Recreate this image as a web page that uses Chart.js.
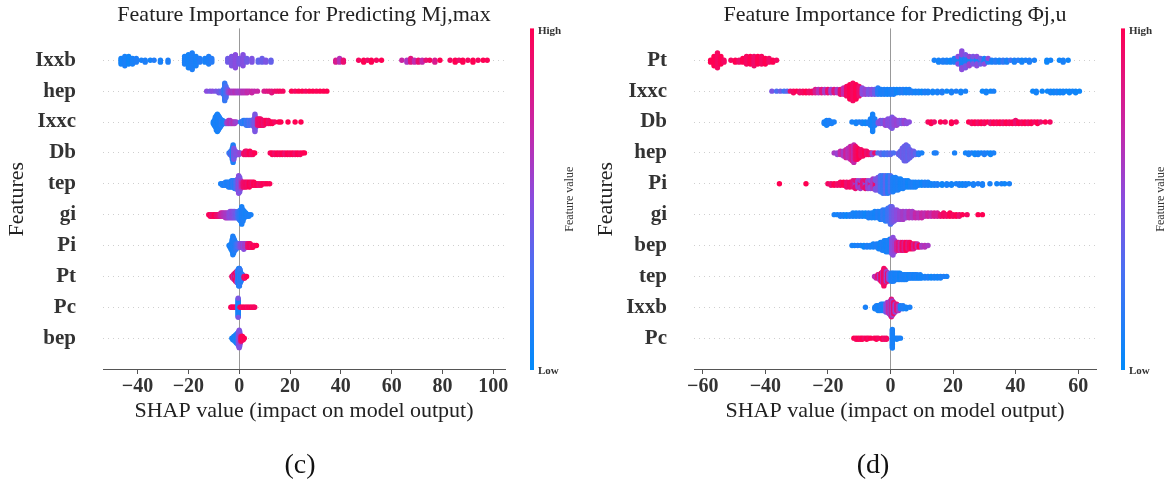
<!DOCTYPE html>
<html>
<head>
<meta charset="utf-8">
<script src="https://cdn.jsdelivr.net/npm/chart.js@4.4.1/dist/chart.umd.min.js"></script>
<style>
  html, body { margin: 0; padding: 0; background: #fff; }
  #wrap { position: relative; width: 1164px; height: 484px; }
  canvas { position: absolute; top: 0; }
  #c1 { left: 0; }
  #c2 { left: 582px; }
</style>
</head>
<body>
<div id="wrap">
  <canvas id="c1" width="582" height="484"></canvas>
  <canvas id="c2" width="582" height="484"></canvas>
</div>
<script>
// ---- data: [shap value, normalised feature value, number of samples] ----
const leftFeatures = ["Ixxb", "hep", "Ixxc", "Db", "tep", "gi", "Pi", "Pt", "Pc", "bep"];
const rightFeatures = ["Pt", "Ixxc", "Db", "hep", "Pi", "gi", "bep", "tep", "Ixxb", "Pc"];
const leftTicks = [-40, -20, 0, 20, 40, 60, 80, 100];
const rightTicks = [-60, -40, -20, 0, 20, 40, 60];
const leftRange = [-53.6, 104.6];
const rightRange = [-62.8, 65.7];

const mIxxb = [[-46.5,.08,4],[-45,.1,6],[-43.5,.06,5],[-42,.1,4],[-40.5,.12,3],[-38.5,.1,1],[-37,.12,2],[-35,.08,1],[-33.5,.14,1],[-31,.1,2],[-28,.12,2],[-21.5,.1,5],[-20,.08,8],[-18.5,.12,10],[-17,.1,6],[-15.5,.14,3],[-13.5,.1,3],[-12,.12,5],[-10.8,.15,3],[-4.5,.42,3],[-3,.46,6],[-1.5,.5,8],[0,.44,4],[1.5,.48,7],[3,.42,3],[5,.46,3],[7.5,.36,2],[9,.4,3],[10.5,.45,2],[12.5,.38,2],[38,.8,2],[39.5,.65,3],[41,.9,2],[47,.95,1],[49,1,2],[50.5,.92,1],[52,1,2],[54,.95,1],[56,1,1],[64,.72,1],[66,.62,2],[67.5,.85,3],[69,.68,2],[70.5,.9,2],[72,.7,2],[73.5,.88,1],[75,.95,1],[77,.8,2],[79,1,1],[83,.95,1],[85,1,2],[86.5,.92,1],[88,1,2],[90,.95,1],[92,1,2],[94,.95,1],[96,1,1],[97.6,.98,1]];
const mHep = [[-12.8,.5,1],[-11.5,.45,1],[-10.5,.5,1],[-9.2,.45,1],[-8,.42,2],[-7,.35,2],[-6.2,.25,4],[-5.7,.2,12],[-5.2,.3,8],[-4.6,.4,3],[-4,.55,2],[-3.2,.62,2],[-2.4,.6,2],[-1.6,.65,2],[-0.8,.6,2],[0,.58,2],[0.8,.62,2],[1.6,.66,2],[2.4,.65,2],[3.2,.7,2],[4,.68,1],[5,.72,2],[6,.7,1],[7.2,.72,1],[9.8,.8,1],[10.8,.82,1],[11.8,.85,1],[12.8,.85,2],[14,.9,1],[15,.92,1],[16,.95,1],[17.2,.95,1],[20.6,1,1],[22,.95,1],[23.4,1,1],[24.8,1,1],[26.2,.95,1],[27.6,1,1],[29,1,1],[30.4,.98,1],[31.8,1,1],[33.2,1,1],[34.5,1,1]];
const mIxxc = [[-10.2,.1,2],[-9.8,.08,4],[-9.4,.1,7],[-9,.12,10],[-8.6,.08,12],[-8.2,.1,10],[-7.8,.12,8],[-7.4,.1,6],[-7,.15,4],[-6.5,.12,3],[-6,.1,2],[-5.4,.15,2],[-4.8,.55,2],[-4.2,.6,3],[-3.6,.65,3],[-3,.58,2],[-2.4,.66,2],[-1.8,.6,2],[-1.2,.55,1],[0.5,.2,1],[1,.15,2],[1.6,.2,3],[2.2,.12,3],[2.8,.25,4],[3.4,.2,4],[4,.3,4],[4.6,.25,3],[5.2,.35,4],[5.8,.4,6],[6.2,.45,12],[6.6,.42,6],[7.2,.85,5],[7.8,.9,5],[8.4,.92,5],[9,.95,4],[9.6,.9,4],[10.2,.95,3],[10.8,1,3],[11.5,.92,3],[12.2,.95,2],[13,1,2],[14,.95,1],[15.6,1,1],[16.4,1,1],[19.2,1,1],[22,1,1],[24.3,1,1]];
const mDb = [[-4,.12,1],[-3.6,.4,2],[-3.3,.12,3],[-3,.42,4],[-2.7,.1,8],[-2.4,.12,12],[-2.1,.45,8],[-1.8,.4,4],[-1.5,.48,3],[-1.2,.42,2],[-0.9,.5,2],[-0.5,.45,2],[-0.1,.5,2],[0.4,.55,1],[1.8,.9,2],[2.4,.95,3],[3,.9,3],[3.6,.95,2],[4.2,1,3],[4.8,.92,2],[5.4,.95,2],[6.1,1,1],[12.2,.95,1],[13,1,2],[14,.92,2],[15,1,2],[16,.95,2],[17,1,2],[18,.9,2],[19,1,2],[20,.95,2],[21,1,2],[22,.92,2],[23,1,2],[24,.95,2],[25,1,1],[25.7,1,1]];
const mTep = [[-7.3,.1,1],[-6.6,.12,2],[-6,.1,2],[-5.4,.15,3],[-4.8,.1,3],[-4.2,.12,4],[-3.6,.15,4],[-3,.1,5],[-2.4,.2,5],[-1.8,.15,6],[-1.2,.3,6],[-0.6,.4,8],[-0.2,.5,12],[0.2,.45,10],[0.6,.55,6],[1,.7,4],[1.6,.9,4],[2.2,.92,4],[2.8,.95,4],[3.4,.9,3],[4,1,4],[4.6,.95,3],[5.2,.92,3],[5.8,1,3],[6.4,.95,2],[7,1,2],[7.8,.9,2],[8.6,.95,2],[9.4,1,1],[10.2,.95,1],[11,1,1],[12,.98,1]];
const mGi = [[-12,.95,1],[-11.4,1,2],[-10.8,.9,2],[-10.2,.95,2],[-9.6,1,2],[-9,.92,2],[-8.4,.9,2],[-7.8,.85,2],[-7.2,.75,3],[-6.6,.7,3],[-6,.65,3],[-5.4,.62,4],[-4.8,.6,4],[-4.2,.55,4],[-3.6,.5,5],[-3,.52,5],[-2.4,.48,5],[-1.8,.45,5],[-1.2,.4,4],[-0.6,.3,5],[0,.2,6],[0.5,.15,8],[1,.1,12],[1.5,.12,8],[2,.1,5],[2.6,.08,3],[3.2,.12,2],[3.8,.1,2],[4.6,.1,1]];
const mPi = [[-4,.1,1],[-3.6,.12,2],[-3.2,.08,4],[-2.8,.1,7],[-2.5,.12,11],[-2.2,.1,9],[-1.9,.15,7],[-1.6,.12,5],[-1.2,.2,4],[-0.8,.25,3],[-0.4,.3,3],[0,.35,3],[0.4,.45,3],[0.8,.5,3],[1.3,.55,3],[1.8,.5,4],[2.3,.6,3],[2.8,.55,3],[3.3,.85,3],[3.8,.9,3],[4.3,.95,3],[4.8,.9,2],[5.4,1,2],[6,.95,1],[6.8,1,1]];
const mPt = [[-2.9,.9,1],[-2.6,.85,2],[-2.3,.95,3],[-2,.6,4],[-1.7,.9,5],[-1.4,.55,3],[-1.4,.95,3],[-1.1,.95,7],[-0.8,.85,5],[-0.8,.5,3],[-0.5,.2,9],[-0.2,.12,12],[0.1,.15,12],[0.4,.2,9],[0.7,.12,6],[1,.15,4],[1.3,.2,3],[1.6,.15,2],[1.9,.9,2],[2.2,.95,2],[2.5,.9,1],[2.9,1,1]];
const mPc = [[-3.3,.95,1],[-3,1,1],[-2.6,.9,1],[-2.2,1,1],[-1.8,.95,1],[-1.4,1,1],[-0.9,.9,1],[-0.4,.1,18],[-0.4,.45,2],[0.3,.95,1],[0.8,1,1],[1.3,.9,1],[1.8,1,1],[2.3,.95,1],[2.8,1,1],[3.3,.9,1],[3.8,1,1],[4.3,.95,1],[4.8,1,1],[5.3,.92,1],[5.8,1,1],[6.1,.95,1]];
const mBep = [[-2.9,.1,1],[-2.5,.12,2],[-2.1,.08,3],[-1.7,.1,4],[-1.4,.15,5],[-1.1,.12,6],[-0.8,.1,7],[-0.5,.2,8],[-0.2,.4,10],[0,.48,12],[0.2,.45,10],[0.4,.55,6],[0.7,.9,4],[1,.95,3],[1.3,1,3],[1.6,.95,2],[2,1,1]];

const pPt = [[-57.5,1,2],[-56.4,1,6],[-55.3,.95,9],[-54.2,1,5],[-53.2,.95,2],[-51,.95,1],[-49.6,1,2],[-48.4,.92,2],[-47.2,1,3],[-46,.95,5],[-44.8,1,5],[-43.6,.92,6],[-42.4,1,5],[-41.2,.95,5],[-40,1,4],[-38.8,.92,3],[-37.6,1,2],[-36.4,.95,1],[14,.1,1],[15.4,.08,2],[16.8,.12,2],[18,.1,2],[19.2,.06,2],[20.4,.12,3],[21.6,.1,3],[21.6,.5,2],[22.8,.1,6],[22.8,.5,5],[24,.12,5],[24,.45,3],[25.2,.1,3],[25.2,.55,3],[26.4,.15,3],[26.4,.45,2],[27.6,.1,3],[27.6,.5,3],[28.8,.12,2],[28.8,.4,2],[30,.1,3],[30,.5,1],[31.2,.12,2],[31.2,.52,1],[32.4,.1,2],[33.6,.15,2],[34.8,.08,2],[36,.2,2],[37.2,.1,2],[38.4,.25,1],[39.6,.1,2],[40.8,.15,1],[42,.08,2],[43.2,.1,1],[44.4,.12,2],[46,.1,1],[50,.05,2],[51.2,.08,1],[54,.05,1],[55.2,.1,2],[56.8,.06,1]];
const pIxxc = [[-37.9,.45,1],[-36.4,.3,1],[-35.2,.4,1],[-34,.25,1],[-33,.35,1],[-32,.9,1],[-31,.95,2],[-30,1,1],[-29,.9,2],[-28,.95,2],[-27,1,2],[-26,.92,2],[-25,.95,2],[-24,.8,3],[-23,.65,3],[-22,.85,3],[-21,.6,3],[-20,.9,3],[-19,.55,3],[-18,.85,3],[-17,.6,3],[-16,.9,4],[-15,.7,5],[-14,.95,7],[-13,1,10],[-12,.95,12],[-11,1,10],[-10,.9,7],[-9,.5,5],[-8,.55,4],[-7,.45,4],[-6,.5,4],[-5,.4,4],[-4,.15,5],[-3,.1,4],[-2,.12,4],[-1,.08,4],[0,.1,4],[1,.12,4],[2,.06,3],[3,.1,3],[4,.14,3],[5,.08,3],[6,.1,3],[7,.12,2],[8,.08,2],[9,.1,2],[10,.05,2],[11,.12,2],[12,.1,2],[13.5,.08,2],[15,.1,2],[16.5,.12,2],[18,.06,1],[19.5,.1,2],[21,.12,1],[22.5,.08,2],[24,.1,1],[29.4,.05,1],[30.6,.08,2],[32,.06,1],[33,.1,1],[45.5,.05,1],[46.6,.08,2],[48.5,.06,1],[50.2,.05,1],[51.2,.08,2],[52.2,.06,2],[53.2,.1,2],[54.2,.05,2],[55.2,.08,2],[56.2,.06,1],[57.2,.05,2],[58.2,.08,1],[59.2,.06,2],[60.4,.05,1]];
const pDb = [[-21.2,.1,2],[-20.4,.08,4],[-19.6,.12,3],[-18.8,.1,2],[-18,.1,1],[-12.3,.1,1],[-11,.08,2],[-10,.12,1],[-9,.1,2],[-8,.06,2],[-7,.12,2],[-6.4,.1,3],[-5.7,.08,12],[-5,.12,5],[-3.9,.45,2],[-3.2,.5,3],[-2.4,.42,3],[-1.6,.55,4],[-0.8,.48,5],[0,.5,6],[0.5,.45,8],[1.2,.52,5],[2,.55,4],[2.8,.5,3],[3.6,.45,3],[4.4,.55,3],[5.2,.5,2],[6,.5,1],[12,.95,1],[13,1,2],[14,.92,1],[16,1,1],[17.5,.95,1],[19.5,1,2],[21,.95,1],[25,1,1],[26,.95,2],[27,1,2],[28,.92,2],[29,1,2],[30,.95,2],[31,1,1],[32,.9,2],[33,1,2],[34,.95,2],[35,1,2],[36,.92,2],[37,1,2],[38,.95,2],[39,1,2],[40,.9,3],[41,1,2],[42,.95,2],[43,1,2],[44,.92,2],[45,1,2],[46,.95,1],[47,1,2],[48,.9,1],[49.5,1,1],[51,.95,1]];
const pHep = [[-18,.6,1],[-17,.55,2],[-16,.7,3],[-15,.6,4],[-14.2,.75,6],[-13.5,.65,7],[-12.8,.7,9],[-12.2,.8,10],[-11.7,.7,12],[-11.2,.9,9],[-10.6,.95,8],[-10,1,6],[-9.4,.92,5],[-8.8,.95,4],[-8.2,1,3],[-7.6,.9,3],[-7,.95,2],[-6.4,.9,2],[-5.8,.55,2],[-5,.9,1],[-4,.3,1],[-3,.35,2],[-2,.25,2],[-1,.3,2],[0,.35,2],[1,.3,1],[2.6,.4,2],[3.2,.35,4],[3.8,.42,7],[4.4,.38,10],[5,.4,11],[5.6,.36,9],[6.2,.4,6],[6.8,.38,4],[7.4,.42,3],[8,.35,2],[9,.15,2],[10,.1,1],[14,.1,1],[14.6,.12,1],[20.5,.1,1],[24,.08,1],[25,.1,2],[26,.12,1],[27,.06,2],[28,.1,2],[29,.08,1],[30,.12,2],[31,.1,1],[32,.06,2],[33,.1,1]];
const pPi = [[-35.5,1,1],[-27,1,1],[-20,.95,1],[-19,.9,2],[-18,1,2],[-17,.92,2],[-16,.95,3],[-15,1,3],[-14,.9,4],[-13,.95,4],[-12,.85,5],[-11.2,.6,3],[-11.2,.9,3],[-10.4,.55,5],[-9.6,.95,3],[-9.6,.6,3],[-8.8,.85,5],[-8,.5,3],[-8,.9,3],[-7.2,.55,6],[-6.4,.8,3],[-6.4,.5,3],[-5.6,.6,7],[-4.8,.9,4],[-4.8,.45,4],[-4,.45,9],[-3.2,.3,11],[-2.4,.2,12],[-1.6,.35,12],[-0.8,.15,12],[0,.3,11],[0.8,.12,10],[1.6,.1,9],[2.4,.12,8],[3.2,.08,7],[4,.1,6],[4.8,.12,5],[5.6,.06,5],[6.4,.1,4],[7.2,.12,4],[8,.08,4],[9,.1,3],[10,.06,3],[11,.12,3],[12,.1,3],[13,.08,2],[14,.1,2],[15,.12,2],[16.5,.06,2],[18,.1,2],[19.5,.08,2],[21,.1,1],[22,.12,2],[23,.06,2],[24,.1,2],[25,.08,1],[26.5,.1,2],[28,.12,1],[29.4,.1,2],[31.8,.1,1],[34,.08,1],[35.5,.1,1],[36.5,.06,1],[38,.1,1]];
const pGi = [[-18,.1,1],[-17,.08,1],[-16,.12,2],[-15,.1,2],[-14,.06,2],[-13,.12,2],[-12,.1,3],[-11,.08,3],[-10,.12,3],[-9,.1,3],[-8,.06,3],[-7,.12,4],[-6,.1,4],[-5,.08,5],[-4,.14,5],[-3.2,.1,6],[-2.4,.2,7],[-1.6,.15,8],[-0.8,.25,9],[0,.3,12],[0.5,.4,11],[1.2,.45,8],[2,.5,7],[3,.55,6],[4,.6,6],[5,.55,5],[6,.65,5],[7,.6,5],[8,.7,4],[9,.65,4],[10,.72,4],[11,.68,3],[12,.75,3],[13,.7,3],[14,.8,3],[15,.78,3],[16,.9,2],[17,.95,3],[18,.92,2],[19,1,3],[20,.95,2],[21,1,2],[22,.9,2],[23,1,1],[24.5,.95,1],[28,1,1],[29.4,1,1]];
const pBep = [[-12.3,.1,1],[-11.5,.08,1],[-10.5,.12,1],[-9.5,.1,1],[-8.5,.06,2],[-7.5,.12,2],[-6.5,.1,2],[-5.5,.08,3],[-4.5,.12,3],[-3.8,.1,4],[-3.2,.06,5],[-2.6,.12,6],[-2,.1,7],[-1.4,.08,8],[-0.8,.12,8],[-0.2,.1,9],[0.4,.45,10],[0.8,.5,12],[1.4,.55,8],[2,.75,6],[2.6,.85,6],[3.2,.7,6],[3.8,.95,6],[4.4,.8,6],[5,1,6],[5.6,.85,5],[6.2,.95,5],[6.8,1,4],[7.4,.8,4],[8,.95,3],[8.6,.7,3],[9.2,1,2],[10,.6,2],[11,.65,2],[12,.6,1]];
const pTep = [[-5.1,.65,1],[-4.6,.7,2],[-4,.9,3],[-3.5,.6,4],[-3,.95,6],[-2.5,.7,8],[-2.1,.95,12],[-1.7,.9,9],[-1.3,.55,7],[-0.9,.9,6],[-0.5,.5,5],[-0.2,.45,4],[0.2,.15,6],[0.6,.1,6],[1,.12,6],[1.5,.08,5],[2,.1,5],[2.5,.12,5],[3,.06,5],[3.5,.1,4],[4,.12,4],[4.5,.08,4],[5,.1,4],[5.5,.12,3],[6,.06,3],[6.5,.1,3],[7,.12,3],[7.5,.08,3],[8,.1,3],[8.5,.12,3],[9,.06,2],[9.5,.1,3],[10,.08,2],[11,.1,2],[12,.12,2],[13,.06,2],[14,.1,2],[15,.08,2],[16,.1,2],[17,.12,1],[18,.1,1]];
const pIxxb = [[-8,.1,1],[-5,.08,2],[-4.5,.12,3],[-4,.1,4],[-3.5,.06,4],[-3,.12,5],[-2.5,.1,5],[-2,.08,5],[-1.5,.4,6],[-1,.55,7],[-0.5,.7,8],[0,.5,10],[0.3,.85,12],[0.6,.6,10],[1,.9,8],[1.5,.55,6],[2,.85,5],[2.6,.6,4],[3.2,.1,3],[4,.12,3],[5,.08,2],[6.2,.1,1]];
const pPc = [[-11.7,1,1],[-11,.95,2],[-10.3,1,2],[-9.6,.95,2],[-9,1,2],[-8.3,.92,1],[-7.6,1,2],[-7,.95,1],[-6.3,1,1],[-5.2,.95,1],[-4.5,1,2],[-3.9,.95,1],[-2.7,1,2],[-2,.9,2],[-1.3,.95,2],[0.6,.1,16],[1.4,.1,1],[2,.08,2],[2.6,.12,1],[3.2,.1,1]];

const leftRows = [mIxxb, mHep, mIxxc, mDb, mTep, mGi, mPi, mPt, mPc, mBep];
const rightRows = [pPt, pIxxc, pDb, pHep, pPi, pGi, pBep, pTep, pIxxb, pPc];

// shap red_blue colour map (low -> high)
const cmapStops = [
  [0, [0, 139, 251]],
  [0.3, [76, 110, 242]],
  [0.5, [138, 76, 222]],
  [0.7, [196, 40, 170]],
  [1, [255, 0, 82]]
];

function shapColor(v) {
  for (let i = 1; i < cmapStops.length; i++) {
    const [p1, c1] = cmapStops[i];
    const [p0, c0] = cmapStops[i - 1];
    if (v <= p1) {
      const t = (v - p0) / (p1 - p0);
      const c = c0.map((a, k) => Math.round(a + (c1[k] - a) * t));
      return `rgb(${c[0]},${c[1]},${c[2]})`;
    }
  }
  return 'rgb(255,0,82)';
}

// one entry per sample
function expand(row) {
  let out = [];
  for (const [x, v, n] of row) {
    for (let k = 0; k < n; k++) out.push([x, v]);
  }
  return out;
}

// same stacking as shap's beeswarm: bin values, pile points up alternately above/below
function swarmOffsets(xs) {
  const n = xs.length;
  const lo = Math.min(...xs), hi = Math.max(...xs);
  const quant = xs.map(v => Math.round(100 * (v - lo) / (hi - lo + 1e-8)));
  const inds = xs.map((_, i) => i).sort((a, b) => quant[a] - quant[b] || a - b);
  let layer = 0, lastBin = -1;
  const ys = new Array(n).fill(0);
  for (const i of inds) {
    if (quant[i] !== lastBin) layer = 0;
    ys[i] = Math.ceil(layer / 2) * ((layer % 2) * 2 - 1);
    layer++;
    lastBin = quant[i];
  }
  const m = Math.max(...ys.map(y => y + 1));
  return ys.map(y => y * 0.9 * (0.4 / m));
}

const serif = "'Liberation Serif', 'Times New Roman', serif";
const minus = v => v < 0 ? '\u2212' + Math.abs(v) : String(v);

const extras = {
  id: 'extras',
  beforeDatasetsDraw(chart) {
    const {ctx, chartArea} = chart;
    const x0 = chart.scales.x.getPixelForValue(0);
    ctx.save();
    ctx.strokeStyle = '#999999';
    ctx.lineWidth = 1;
    ctx.beginPath();
    ctx.moveTo(Math.round(x0) + 0.5, chartArea.top - 1);
    ctx.lineTo(Math.round(x0) + 0.5, chartArea.bottom);
    ctx.stroke();
    ctx.restore();
  },
  afterDraw(chart, args, opts) {
    const {ctx, chartArea} = chart;
    const top = chartArea.top - 1, bottom = chartArea.bottom + 1;
    const cx = chartArea.right + 25;
    const grad = ctx.createLinearGradient(0, bottom, 0, top);
    cmapStops.forEach(s => grad.addColorStop(s[0], shapColor(s[0])));
    ctx.save();
    ctx.fillStyle = grad;
    ctx.fillRect(cx, top, 4, bottom - top);

    ctx.fillStyle = '#333';
    ctx.font = 'bold 11px ' + serif;
    ctx.textAlign = 'left';
    ctx.textBaseline = 'middle';
    ctx.fillText('High', cx + 8, top + 3);
    ctx.fillText('Low', cx + 8, bottom + 1);

    ctx.font = '12px ' + serif;
    ctx.translate(chartArea.right + 65, (top + bottom) / 2);
    ctx.rotate(-Math.PI / 2);
    ctx.textAlign = 'center';
    ctx.fillText('Feature value', 0, 0);
    ctx.restore();

    ctx.save();
    ctx.fillStyle = '#111';
    ctx.font = '28px ' + serif;
    ctx.textAlign = 'center';
    ctx.textBaseline = 'middle';
    ctx.fillText(opts.label, opts.labelX, 466);
    ctx.restore();
  }
};

function makePanel(id, features, rows, ticks, range, title, yWidth, padRight, label, labelX, yTitlePad) {
  const datasets = rows.map((row, r) => {
    const pts = expand(row);
    const offs = swarmOffsets(pts.map(p => p[0]));
    return {
      label: features[r],
      data: pts.map((p, i) => ({x: p[0], y: r + offs[i]})),
      pointRadius: 2.7,
      pointHoverRadius: 2.7,
      pointBorderWidth: 0,
      pointBackgroundColor: pts.map(p => shapColor(p[1]))
    };
  });

  new Chart(id, {
    type: 'scatter',
    data: {datasets: datasets},
    options: {
      responsive: false,
      animation: false,
      events: [],
      layout: {padding: {left: 0, right: padRight, top: 0, bottom: 55}},
      plugins: {
        legend: {display: false},
        tooltip: {enabled: false},
        title: {
          display: true,
          text: title,
          fullSize: false,
          color: '#222',
          font: {family: serif, size: 22, weight: 'normal', lineHeight: 1.2},
          padding: {top: 2, bottom: 1}
        },
        extras: {label: label, labelX: labelX}
      },
      scales: {
        x: {
          type: 'linear',
          min: range[0],
          max: range[1],
          afterBuildTicks: s => { s.ticks = ticks.map(v => ({value: v})); },
          afterFit: s => { s.height = 60; s.paddingLeft = 0; s.paddingRight = 0; },
          border: {display: true, color: '#555', width: 1},
          grid: {drawOnChartArea: false, drawTicks: true, tickLength: 5, color: '#555'},
          ticks: {
            callback: v => minus(v),
            color: '#333',
            padding: 1,
            maxRotation: 0,
            font: {family: serif, size: 20, weight: 'bold'}
          },
          title: {
            display: true,
            text: 'SHAP value (impact on model output)',
            color: '#222',
            font: {family: serif, size: 22, lineHeight: 1.2},
            padding: {top: 0, bottom: 5}
          }
        },
        y: {
          type: 'linear',
          min: -1,
          max: 10,
          reverse: true,
          afterBuildTicks: s => { s.ticks = features.map((_, i) => ({value: i})); },
          afterFit: s => { s.width = yWidth; s.paddingTop = 0; s.paddingBottom = 0; },
          border: {display: false, dash: [1, 4]},
          grid: {drawTicks: false, color: '#cfcfcf', lineWidth: 1},
          ticks: {
            callback: v => features[v],
            color: '#333',
            padding: 27,
            font: {family: serif, size: 21, weight: 'bold'}
          },
          title: {
            display: true,
            text: 'Features',
            color: '#222',
            font: {family: serif, size: 22, lineHeight: 1.2},
            padding: {top: yTitlePad, bottom: 0}
          }
        }
      }
    },
    plugins: [extras]
  });
}

makePanel('c1', leftFeatures, leftRows, leftTicks, leftRange,
  'Feature Importance for Predicting Mj,max', 103, 77, '(c)', 300, 4);
makePanel('c2', rightFeatures, rightRows, rightTicks, rightRange,
  'Feature Importance for Predicting \u03A6j,u', 112, 68, '(d)', 291, 11);
</script>
</body>
</html>
